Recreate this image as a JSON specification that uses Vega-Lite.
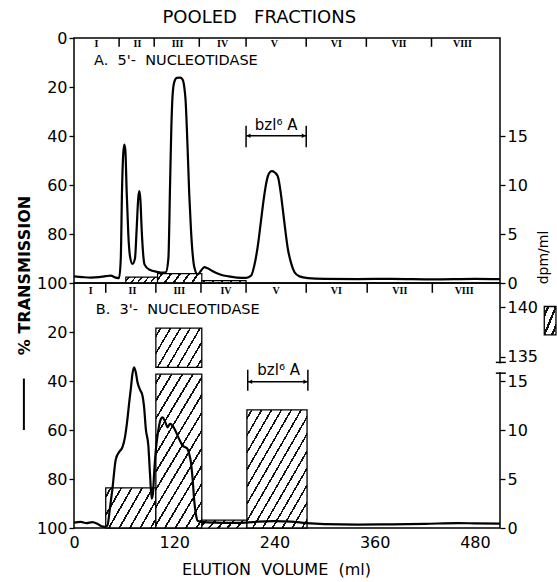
{
  "$schema": "https://vega.github.io/schema/vega-lite/v6.json",
  "padding": {"left": 15, "top": 9, "right": 5, "bottom": 10},
  "bounds": "flush",
  "spacing": 0,
  "title": {"text": "POOLED\u00a0\u00a0\u00a0FRACTIONS", "anchor": "middle", "dx": -27, "offset": 2, "fontSize": 18, "fontWeight": "normal", "font": "DejaVu Sans", "color": "black"},
  "datasets": {
    "lineA": [
      {"ml":0,"t":97.3},{"ml":10,"t":97.6},{"ml":20,"t":97.8},{"ml":30,"t":97.6},{"ml":38,"t":97.2},{"ml":44,"t":97.0},{"ml":50,"t":97.8},{"ml":54,"t":98.0},
      {"ml":56,"t":90},{"ml":57.5,"t":62},{"ml":59,"t":47},{"ml":60.3,"t":43.5},{"ml":61.5,"t":46},{"ml":63,"t":62},{"ml":65,"t":80},{"ml":67,"t":89},{"ml":70,"t":92.2},
      {"ml":73,"t":90},{"ml":75,"t":78},{"ml":77,"t":65},{"ml":78.2,"t":62.5},{"ml":79.5,"t":66},{"ml":81,"t":78},{"ml":83,"t":89},{"ml":84.5,"t":92.5},{"ml":90,"t":94.5},
      {"ml":100,"t":95.5},{"ml":106,"t":95.8},{"ml":110,"t":95.6},{"ml":113,"t":90},{"ml":115,"t":60},{"ml":116.5,"t":37},{"ml":118,"t":23.5},{"ml":120,"t":18},{"ml":123,"t":16.3},
      {"ml":127,"t":16.2},{"ml":130,"t":17},{"ml":132,"t":20},{"ml":133.5,"t":25},{"ml":136,"t":45},{"ml":138,"t":64},{"ml":140,"t":78},{"ml":142,"t":88},{"ml":144,"t":93.5},
      {"ml":148,"t":96.5},{"ml":152,"t":95},{"ml":156,"t":93.5},{"ml":160,"t":94},{"ml":166,"t":95.2},{"ml":175,"t":96.5},{"ml":185,"t":97.3},{"ml":195,"t":97.8},
      {"ml":206,"t":97.9},{"ml":212,"t":97},{"ml":217,"t":91},{"ml":220,"t":85},{"ml":223,"t":77},{"ml":226,"t":68.7},{"ml":229,"t":61.5},{"ml":232,"t":56.5},{"ml":235,"t":54.6},
      {"ml":237,"t":54.3},{"ml":240,"t":54.8},{"ml":244,"t":56.5},{"ml":247,"t":62},{"ml":250,"t":70},{"ml":253,"t":78.5},{"ml":256,"t":86},{"ml":260,"t":92},{"ml":264,"t":95.6},
      {"ml":270,"t":97.3},{"ml":280,"t":98},{"ml":300,"t":98.3},{"ml":340,"t":98.4},{"ml":380,"t":98.3},{"ml":430,"t":98.5},{"ml":480,"t":98.3},{"ml":510,"t":98.4}
    ],
    "lineB": [
      {"ml":0,"t":97.8},{"ml":8,"t":97.5},{"ml":15,"t":98.0},{"ml":22,"t":97.6},{"ml":28,"t":98.3},{"ml":33,"t":99.3},{"ml":37,"t":99.5},{"ml":40,"t":99.0},
      {"ml":43,"t":92},{"ml":46,"t":84},{"ml":50,"t":72},{"ml":54,"t":69},{"ml":58,"t":67},{"ml":61,"t":63},{"ml":64,"t":55.5},{"ml":66,"t":49},{"ml":68,"t":43.3},
      {"ml":70,"t":37},{"ml":72,"t":34.4},{"ml":74,"t":36.5},{"ml":76,"t":40.5},{"ml":79,"t":43.5},{"ml":82,"t":46},{"ml":84,"t":51},{"ml":86,"t":59.6},{"ml":89,"t":66.4},
      {"ml":91,"t":78},{"ml":93,"t":88},{"ml":94.5,"t":86},{"ml":96,"t":77.3},{"ml":98,"t":68},{"ml":100,"t":62.3},{"ml":102,"t":58},{"ml":104,"t":55.5},{"ml":106,"t":54.8},
      {"ml":109,"t":56.5},{"ml":112,"t":58.9},{"ml":115,"t":57.5},{"ml":118,"t":58.2},{"ml":121,"t":60},{"ml":124,"t":62.3},{"ml":127,"t":64.5},{"ml":130,"t":66.4},
      {"ml":133,"t":67},{"ml":136,"t":67.8},{"ml":138,"t":70},{"ml":140,"t":73.2},{"ml":142,"t":80},{"ml":144,"t":89},{"ml":146,"t":94.5},{"ml":148,"t":97},
      {"ml":155,"t":97.6},{"ml":170,"t":97.8},{"ml":190,"t":97.9},{"ml":206,"t":97.8},{"ml":220,"t":97.4},{"ml":240,"t":97.2},{"ml":260,"t":97.4},{"ml":278,"t":98.0},
      {"ml":300,"t":98.4},{"ml":340,"t":98.6},{"ml":380,"t":98.5},{"ml":420,"t":98.3},{"ml":460,"t":98.0},{"ml":480,"t":98.1},{"ml":510,"t":98.2}
    ],
    "barsA": [
      {"frac":"II","x0":62,"x1":100,"lo":0,"hi":0.6},
      {"frac":"III","x0":100,"x1":153,"lo":0,"hi":0.95},
      {"frac":"IV","x0":153,"x1":206,"lo":0,"hi":0.25}
    ],
    "barsB": [
      {"frac":"II","x0":38,"x1":98,"lo":0,"hi":4.1},
      {"frac":"III","x0":98,"x1":153,"lo":0,"hi":15.7},
      {"frac":"III-upper","x0":98,"x1":153,"lo":133.9,"hi":137.9},
      {"frac":"IV","x0":153,"x1":207,"lo":0,"hi":0.8},
      {"frac":"V","x0":207,"x1":279,"lo":0,"hi":12.05}
    ],
    "fracA": [
      {"ml":27,"label":"I"},{"ml":76,"label":"II"},{"ml":124,"label":"III"},{"ml":178,"label":"IV"},
      {"ml":240,"label":"V"},{"ml":314,"label":"VI"},{"ml":389,"label":"VII"},{"ml":465,"label":"VIII"}
    ],
    "fracB": [
      {"ml":20,"label":"I"},{"ml":70,"label":"II"},{"ml":126,"label":"III"},{"ml":182,"label":"IV"},
      {"ml":242,"label":"V"},{"ml":314,"label":"VI"},{"ml":390,"label":"VII"},{"ml":467,"label":"VIII"}
    ],
    "ticksA": [{"ml":54},{"ml":96},{"ml":150},{"ml":206},{"ml":278},{"ml":350},{"ml":428}],
    "ticksB": [{"ml":38},{"ml":98},{"ml":152},{"ml":206},{"ml":278},{"ml":351},{"ml":429}]
  },
  "resolve": {"scale": {"x": "shared", "y": "independent"}},
  "vconcat": [
    {
      "width": 426,
      "height": 245,
      "resolve": {"scale": {"y": "independent"}, "axis": {"y": "independent", "x": "independent"}},
      "layer": [
        {
          "data": {"name": "barsA"},
          "mark": {"type": "rect", "stroke": "black", "strokeWidth": 1.2,
            "fill": {"gradient": "linear", "x1": 0, "y1": 0, "x2": 1, "y2": 0.15, "stops": [
              {"offset":0,"color":"#fff"},
              {"offset":0.075,"color":"#fff"},{"offset":0.075,"color":"#111"},{"offset":0.125,"color":"#111"},{"offset":0.125,"color":"#fff"},
              {"offset":0.275,"color":"#fff"},{"offset":0.275,"color":"#111"},{"offset":0.325,"color":"#111"},{"offset":0.325,"color":"#fff"},
              {"offset":0.475,"color":"#fff"},{"offset":0.475,"color":"#111"},{"offset":0.525,"color":"#111"},{"offset":0.525,"color":"#fff"},
              {"offset":0.675,"color":"#fff"},{"offset":0.675,"color":"#111"},{"offset":0.725,"color":"#111"},{"offset":0.725,"color":"#fff"},
              {"offset":0.875,"color":"#fff"},{"offset":0.875,"color":"#111"},{"offset":0.925,"color":"#111"},{"offset":0.925,"color":"#fff"},
              {"offset":1,"color":"#fff"}]}},
          "encoding": {
            "x": {"field": "x0", "type": "quantitative", "scale": {"domain": [0, 510], "nice": false, "zero": false}, "axis": null},
            "x2": {"field": "x1"},
            "y": {"field": "hi", "type": "quantitative", "scale": {"domain": [0, 25], "nice": false, "zero": false},
              "axis": {"orient": "right", "values": [0, 5, 10, 15], "domain": false, "title": "dpm/ml", "titleX": 43, "titleY": 219, "titleAngle": -90, "titleAlign": "center", "titleBaseline": "middle", "titleFontSize": 14, "titleFontWeight": "normal"}},
            "y2": {"field": "lo"}
          }
        },
        {
          "data": {"name": "ticksA"},
          "mark": {"type": "rule", "color": "black", "strokeWidth": 1.5},
          "encoding": {
            "x": {"field": "ml", "type": "quantitative", "axis": null},
            "y": {"datum": 0, "type": "quantitative", "scale": {"domain": [0, 100], "reverse": true, "nice": false}, "axis": null},
            "y2": {"datum": 3.6}
          }
        },
        {
          "data": {"name": "fracA"},
          "mark": {"type": "text", "font": "Liberation Serif", "fontWeight": "bold", "fontSize": 10, "baseline": "middle", "align": "center", "color": "black"},
          "encoding": {
            "x": {"field": "ml", "type": "quantitative", "axis": null},
            "y": {"datum": 2.5, "type": "quantitative", "scale": {"domain": [0, 100], "reverse": true, "nice": false}, "axis": null},
            "text": {"field": "label"}
          }
        },
        {
          "data": {"values": [{}]},
          "mark": {"type": "text", "text": "A.\u00a0\u00a05'-\u00a0\u00a0NUCLEOTIDASE", "fontSize": 14.5, "align": "left", "baseline": "middle", "color": "black"},
          "encoding": {
            "x": {"datum": 24, "type": "quantitative", "axis": null},
            "y": {"datum": 9.4, "type": "quantitative", "scale": {"domain": [0, 100], "reverse": true, "nice": false}, "axis": null}
          }
        },
        {
          "data": {"values": [{}]},
          "mark": {"type": "rule", "color": "black", "strokeWidth": 1.3},
          "encoding": {
            "x": {"datum": 206, "type": "quantitative", "axis": null},
            "x2": {"datum": 278},
            "y": {"datum": 39.9, "type": "quantitative", "scale": {"domain": [0, 100], "reverse": true, "nice": false}, "axis": null}
          }
        },
        {
          "data": {"values": [{"ml": 206}, {"ml": 278}]},
          "mark": {"type": "rule", "color": "black", "strokeWidth": 1.5},
          "encoding": {
            "x": {"field": "ml", "type": "quantitative", "axis": null},
            "y": {"datum": 35.8, "type": "quantitative", "scale": {"domain": [0, 100], "reverse": true, "nice": false}, "axis": null},
            "y2": {"datum": 44.6}
          }
        },
        {
          "data": {"values": [{}]},
          "mark": {"type": "point", "shape": "triangle-left", "filled": true, "size": 20, "color": "black", "opacity": 1},
          "encoding": {
            "x": {"datum": 209, "type": "quantitative", "axis": null},
            "y": {"datum": 39.9, "type": "quantitative", "scale": {"domain": [0, 100], "reverse": true, "nice": false}, "axis": null}
          }
        },
        {
          "data": {"values": [{}]},
          "mark": {"type": "point", "shape": "triangle-right", "filled": true, "size": 20, "color": "black", "opacity": 1},
          "encoding": {
            "x": {"datum": 275, "type": "quantitative", "axis": null},
            "y": {"datum": 39.9, "type": "quantitative", "scale": {"domain": [0, 100], "reverse": true, "nice": false}, "axis": null}
          }
        },
        {
          "data": {"values": [{}]},
          "mark": {"type": "text", "text": "bzl⁶ A", "fontSize": 15, "align": "center", "baseline": "middle", "color": "black"},
          "encoding": {
            "x": {"datum": 242, "type": "quantitative", "axis": null},
            "y": {"datum": 35.5, "type": "quantitative", "scale": {"domain": [0, 100], "reverse": true, "nice": false}, "axis": null}
          }
        },
        {
          "data": {"name": "lineA"},
          "mark": {"type": "line", "color": "black", "strokeWidth": 2.2, "interpolate": "monotone"},
          "encoding": {
            "x": {"field": "ml", "type": "quantitative", "axis": null},
            "y": {"field": "t", "type": "quantitative", "scale": {"domain": [0, 100], "reverse": true, "nice": false},
              "axis": {"orient": "left", "values": [0, 20, 40, 60, 80, 100], "domain": false, "title": "% TRANSMISSION", "titleX": -50, "titleY": 237, "titleAngle": -90, "titleAlign": "center", "titleBaseline": "middle", "titleFontSize": 16, "titleFontWeight": "bold"}}
          }
        }
      ]
    },
    {
      "width": 426,
      "height": 245,
      "resolve": {"scale": {"y": "independent"}, "axis": {"y": "independent", "x": "independent"}},
      "layer": [
        {
          "data": {"name": "barsB"},
          "transform": [{"filter": "datum.frac == 'II'"}],
          "mark": {"type": "rect", "stroke": "black", "strokeWidth": 1.3,
            "fill": {"gradient": "linear", "x1": 0, "y1": 0, "x2": 1.205, "y2": 0.555, "stops": [
              {"offset":0,"color":"#fff"},
              {"offset":0.0586,"color":"#fff"},{"offset":0.0586,"color":"#111"},{"offset":0.0843,"color":"#111"},{"offset":0.0843,"color":"#fff"},
              {"offset":0.2014,"color":"#fff"},{"offset":0.2014,"color":"#111"},{"offset":0.2271,"color":"#111"},{"offset":0.2271,"color":"#fff"},
              {"offset":0.3443,"color":"#fff"},{"offset":0.3443,"color":"#111"},{"offset":0.37,"color":"#111"},{"offset":0.37,"color":"#fff"},
              {"offset":0.4871,"color":"#fff"},{"offset":0.4871,"color":"#111"},{"offset":0.5129,"color":"#111"},{"offset":0.5129,"color":"#fff"},
              {"offset":0.63,"color":"#fff"},{"offset":0.63,"color":"#111"},{"offset":0.6557,"color":"#111"},{"offset":0.6557,"color":"#fff"},
              {"offset":0.7729,"color":"#fff"},{"offset":0.7729,"color":"#111"},{"offset":0.7986,"color":"#111"},{"offset":0.7986,"color":"#fff"},
              {"offset":0.9157,"color":"#fff"},{"offset":0.9157,"color":"#111"},{"offset":0.9414,"color":"#111"},{"offset":0.9414,"color":"#fff"},
              {"offset":1,"color":"#fff"}]}},
          "encoding": {
            "x": {"field": "x0", "type": "quantitative", "scale": {"domain": [0, 510], "nice": false, "zero": false}, "axis": null},
            "x2": {"field": "x1"},
            "y": {"field": "hi", "type": "quantitative", "scale": {"domain": [0, 25], "nice": false, "zero": false}, "axis": null},
            "y2": {"field": "lo"}
          }
        },
        {
          "data": {"name": "barsB"},
          "transform": [{"filter": "datum.frac == 'III'"}],
          "mark": {"type": "rect", "stroke": "black", "strokeWidth": 1.3,
            "fill": {"gradient": "linear", "x1": 0, "y1": 0, "x2": 0.6, "y2": 1.2, "stops": [
              {"offset":0,"color":"#fff"},
              {"offset":0.0315,"color":"#fff"},{"offset":0.0315,"color":"#111"},{"offset":0.0454,"color":"#111"},{"offset":0.0454,"color":"#fff"},
              {"offset":0.1085,"color":"#fff"},{"offset":0.1085,"color":"#111"},{"offset":0.1223,"color":"#111"},{"offset":0.1223,"color":"#fff"},
              {"offset":0.1854,"color":"#fff"},{"offset":0.1854,"color":"#111"},{"offset":0.1992,"color":"#111"},{"offset":0.1992,"color":"#fff"},
              {"offset":0.2623,"color":"#fff"},{"offset":0.2623,"color":"#111"},{"offset":0.2762,"color":"#111"},{"offset":0.2762,"color":"#fff"},
              {"offset":0.3392,"color":"#fff"},{"offset":0.3392,"color":"#111"},{"offset":0.3531,"color":"#111"},{"offset":0.3531,"color":"#fff"},
              {"offset":0.4162,"color":"#fff"},{"offset":0.4162,"color":"#111"},{"offset":0.43,"color":"#111"},{"offset":0.43,"color":"#fff"},
              {"offset":0.4931,"color":"#fff"},{"offset":0.4931,"color":"#111"},{"offset":0.5069,"color":"#111"},{"offset":0.5069,"color":"#fff"},
              {"offset":0.57,"color":"#fff"},{"offset":0.57,"color":"#111"},{"offset":0.5838,"color":"#111"},{"offset":0.5838,"color":"#fff"},
              {"offset":0.6469,"color":"#fff"},{"offset":0.6469,"color":"#111"},{"offset":0.6608,"color":"#111"},{"offset":0.6608,"color":"#fff"},
              {"offset":0.7238,"color":"#fff"},{"offset":0.7238,"color":"#111"},{"offset":0.7377,"color":"#111"},{"offset":0.7377,"color":"#fff"},
              {"offset":0.8008,"color":"#fff"},{"offset":0.8008,"color":"#111"},{"offset":0.8146,"color":"#111"},{"offset":0.8146,"color":"#fff"},
              {"offset":0.8777,"color":"#fff"},{"offset":0.8777,"color":"#111"},{"offset":0.8915,"color":"#111"},{"offset":0.8915,"color":"#fff"},
              {"offset":0.9546,"color":"#fff"},{"offset":0.9546,"color":"#111"},{"offset":0.9685,"color":"#111"},{"offset":0.9685,"color":"#fff"},
              {"offset":1,"color":"#fff"}]}},
          "encoding": {
            "x": {"field": "x0", "type": "quantitative", "axis": null},
            "x2": {"field": "x1"},
            "y": {"field": "hi", "type": "quantitative", "scale": {"domain": [0, 25], "nice": false, "zero": false}, "axis": null},
            "y2": {"field": "lo"}
          }
        },
        {
          "data": {"name": "barsB"},
          "transform": [{"filter": "datum.frac == 'III-upper'"}],
          "mark": {"type": "rect", "stroke": "black", "strokeWidth": 1.3,
            "fill": {"gradient": "linear", "x1": 0, "y1": 0, "x2": 1.2, "y2": 0.6, "stops": [
              {"offset":0,"color":"#fff"},
              {"offset":0.0586,"color":"#fff"},{"offset":0.0586,"color":"#111"},{"offset":0.0843,"color":"#111"},{"offset":0.0843,"color":"#fff"},
              {"offset":0.2014,"color":"#fff"},{"offset":0.2014,"color":"#111"},{"offset":0.2271,"color":"#111"},{"offset":0.2271,"color":"#fff"},
              {"offset":0.3443,"color":"#fff"},{"offset":0.3443,"color":"#111"},{"offset":0.37,"color":"#111"},{"offset":0.37,"color":"#fff"},
              {"offset":0.4871,"color":"#fff"},{"offset":0.4871,"color":"#111"},{"offset":0.5129,"color":"#111"},{"offset":0.5129,"color":"#fff"},
              {"offset":0.63,"color":"#fff"},{"offset":0.63,"color":"#111"},{"offset":0.6557,"color":"#111"},{"offset":0.6557,"color":"#fff"},
              {"offset":0.7729,"color":"#fff"},{"offset":0.7729,"color":"#111"},{"offset":0.7986,"color":"#111"},{"offset":0.7986,"color":"#fff"},
              {"offset":0.9157,"color":"#fff"},{"offset":0.9157,"color":"#111"},{"offset":0.9414,"color":"#111"},{"offset":0.9414,"color":"#fff"},
              {"offset":1,"color":"#fff"}]}},
          "encoding": {
            "x": {"field": "x0", "type": "quantitative", "axis": null},
            "x2": {"field": "x1"},
            "y": {"field": "hi", "type": "quantitative", "scale": {"domain": [117.5, 142.5], "nice": false, "zero": false}, "axis": null},
            "y2": {"field": "lo"}
          }
        },
        {
          "data": {"name": "barsB"},
          "transform": [{"filter": "datum.frac == 'IV'"}],
          "mark": {"type": "rect", "stroke": "black", "strokeWidth": 1.2,
            "fill": {"gradient": "linear", "x1": 0, "y1": 0, "x2": 1, "y2": 0.15, "stops": [
              {"offset":0,"color":"#fff"},
              {"offset":0.075,"color":"#fff"},{"offset":0.075,"color":"#111"},{"offset":0.125,"color":"#111"},{"offset":0.125,"color":"#fff"},
              {"offset":0.275,"color":"#fff"},{"offset":0.275,"color":"#111"},{"offset":0.325,"color":"#111"},{"offset":0.325,"color":"#fff"},
              {"offset":0.475,"color":"#fff"},{"offset":0.475,"color":"#111"},{"offset":0.525,"color":"#111"},{"offset":0.525,"color":"#fff"},
              {"offset":0.675,"color":"#fff"},{"offset":0.675,"color":"#111"},{"offset":0.725,"color":"#111"},{"offset":0.725,"color":"#fff"},
              {"offset":0.875,"color":"#fff"},{"offset":0.875,"color":"#111"},{"offset":0.925,"color":"#111"},{"offset":0.925,"color":"#fff"},
              {"offset":1,"color":"#fff"}]}},
          "encoding": {
            "x": {"field": "x0", "type": "quantitative", "axis": null},
            "x2": {"field": "x1"},
            "y": {"field": "hi", "type": "quantitative", "scale": {"domain": [0, 25], "nice": false, "zero": false}, "axis": null},
            "y2": {"field": "lo"}
          }
        },
        {
          "data": {"name": "barsB"},
          "transform": [{"filter": "datum.frac == 'V'"}],
          "mark": {"type": "rect", "stroke": "black", "strokeWidth": 1.3,
            "fill": {"gradient": "linear", "x1": 0, "y1": 0, "x2": 0.933, "y2": 1.059, "stops": [
              {"offset":0,"color":"#fff"},
              {"offset":0.0315,"color":"#fff"},{"offset":0.0315,"color":"#111"},{"offset":0.0454,"color":"#111"},{"offset":0.0454,"color":"#fff"},
              {"offset":0.1085,"color":"#fff"},{"offset":0.1085,"color":"#111"},{"offset":0.1223,"color":"#111"},{"offset":0.1223,"color":"#fff"},
              {"offset":0.1854,"color":"#fff"},{"offset":0.1854,"color":"#111"},{"offset":0.1992,"color":"#111"},{"offset":0.1992,"color":"#fff"},
              {"offset":0.2623,"color":"#fff"},{"offset":0.2623,"color":"#111"},{"offset":0.2762,"color":"#111"},{"offset":0.2762,"color":"#fff"},
              {"offset":0.3392,"color":"#fff"},{"offset":0.3392,"color":"#111"},{"offset":0.3531,"color":"#111"},{"offset":0.3531,"color":"#fff"},
              {"offset":0.4162,"color":"#fff"},{"offset":0.4162,"color":"#111"},{"offset":0.43,"color":"#111"},{"offset":0.43,"color":"#fff"},
              {"offset":0.4931,"color":"#fff"},{"offset":0.4931,"color":"#111"},{"offset":0.5069,"color":"#111"},{"offset":0.5069,"color":"#fff"},
              {"offset":0.57,"color":"#fff"},{"offset":0.57,"color":"#111"},{"offset":0.5838,"color":"#111"},{"offset":0.5838,"color":"#fff"},
              {"offset":0.6469,"color":"#fff"},{"offset":0.6469,"color":"#111"},{"offset":0.6608,"color":"#111"},{"offset":0.6608,"color":"#fff"},
              {"offset":0.7238,"color":"#fff"},{"offset":0.7238,"color":"#111"},{"offset":0.7377,"color":"#111"},{"offset":0.7377,"color":"#fff"},
              {"offset":0.8008,"color":"#fff"},{"offset":0.8008,"color":"#111"},{"offset":0.8146,"color":"#111"},{"offset":0.8146,"color":"#fff"},
              {"offset":0.8777,"color":"#fff"},{"offset":0.8777,"color":"#111"},{"offset":0.8915,"color":"#111"},{"offset":0.8915,"color":"#fff"},
              {"offset":0.9546,"color":"#fff"},{"offset":0.9546,"color":"#111"},{"offset":0.9685,"color":"#111"},{"offset":0.9685,"color":"#fff"},
              {"offset":1,"color":"#fff"}]}},
          "encoding": {
            "x": {"field": "x0", "type": "quantitative", "axis": null},
            "x2": {"field": "x1"},
            "y": {"field": "hi", "type": "quantitative", "scale": {"domain": [0, 25], "nice": false, "zero": false},
              "axis": {"orient": "right", "values": [0, 5, 10, 15, 17.5, 22.5], "domain": false, "title": null, "labelExpr": "datum.value == 17.5 ? '135' : datum.value == 22.5 ? '140' : datum.label"}},
            "y2": {"field": "lo"}
          }
        },
        {
          "data": {"values": [{}]},
          "mark": {"type": "rect", "fill": "white", "stroke": null},
          "encoding": {
            "x": {"datum": 506.5, "type": "quantitative", "axis": null},
            "x2": {"datum": 513.5},
            "y": {"datum": 15.9, "type": "quantitative", "scale": {"domain": [0, 25], "nice": false, "zero": false}, "axis": null},
            "y2": {"datum": 16.8}
          }
        },
        {
          "data": {"values": [{"v": 15.8}, {"v": 16.9}]},
          "mark": {"type": "rule", "color": "black", "strokeWidth": 1.5},
          "encoding": {
            "x": {"datum": 505, "type": "quantitative", "axis": null},
            "x2": {"datum": 517},
            "y": {"field": "v", "type": "quantitative", "scale": {"domain": [0, 25], "nice": false, "zero": false}, "axis": null}
          }
        },
        {
          "data": {"values": [{}]},
          "mark": {"type": "rect", "stroke": "black", "strokeWidth": 1.3,
            "fill": {"gradient": "linear", "x1": 0, "y1": 0, "x2": 1, "y2": 1, "stops": [
              {"offset":0,"color":"#fff"},
              {"offset":0.1167,"color":"#fff"},{"offset":0.1167,"color":"#111"},{"offset":0.2167,"color":"#111"},{"offset":0.2167,"color":"#fff"},
              {"offset":0.45,"color":"#fff"},{"offset":0.45,"color":"#111"},{"offset":0.55,"color":"#111"},{"offset":0.55,"color":"#fff"},
              {"offset":0.7833,"color":"#fff"},{"offset":0.7833,"color":"#111"},{"offset":0.8833,"color":"#111"},{"offset":0.8833,"color":"#fff"},
              {"offset":1,"color":"#fff"}]}},
          "encoding": {
            "x": {"datum": 563, "type": "quantitative", "axis": null},
            "x2": {"datum": 577},
            "y": {"datum": 137.2, "type": "quantitative", "scale": {"domain": [117.5, 142.5], "nice": false, "zero": false}, "axis": null},
            "y2": {"datum": 140.1}
          }
        },
        {
          "data": {"values": [{}]},
          "mark": {"type": "rule", "color": "black", "strokeWidth": 2},
          "encoding": {
            "x": {"datum": -60, "type": "quantitative", "axis": null},
            "y": {"datum": 39, "type": "quantitative", "scale": {"domain": [0, 100], "reverse": true, "nice": false}, "axis": null},
            "y2": {"datum": 60}
          }
        },
        {
          "data": {"name": "ticksB"},
          "mark": {"type": "rule", "color": "black", "strokeWidth": 1.5},
          "encoding": {
            "x": {"field": "ml", "type": "quantitative", "axis": null},
            "y": {"datum": 0, "type": "quantitative", "scale": {"domain": [0, 100], "reverse": true, "nice": false}, "axis": null},
            "y2": {"datum": 4}
          }
        },
        {
          "data": {"name": "fracB"},
          "mark": {"type": "text", "font": "Liberation Serif", "fontWeight": "bold", "fontSize": 10, "baseline": "middle", "align": "center", "color": "black"},
          "encoding": {
            "x": {"field": "ml", "type": "quantitative", "axis": null},
            "y": {"datum": 3.1, "type": "quantitative", "scale": {"domain": [0, 100], "reverse": true, "nice": false}, "axis": null},
            "text": {"field": "label"}
          }
        },
        {
          "data": {"values": [{}]},
          "mark": {"type": "text", "text": "B.\u00a0\u00a03'-\u00a0\u00a0NUCLEOTIDASE", "fontSize": 14.5, "align": "left", "baseline": "middle", "color": "black"},
          "encoding": {
            "x": {"datum": 26, "type": "quantitative", "axis": null},
            "y": {"datum": 11, "type": "quantitative", "scale": {"domain": [0, 100], "reverse": true, "nice": false}, "axis": null}
          }
        },
        {
          "data": {"values": [{}]},
          "mark": {"type": "rule", "color": "black", "strokeWidth": 1.3},
          "encoding": {
            "x": {"datum": 208, "type": "quantitative", "axis": null},
            "x2": {"datum": 280},
            "y": {"datum": 40.3, "type": "quantitative", "scale": {"domain": [0, 100], "reverse": true, "nice": false}, "axis": null}
          }
        },
        {
          "data": {"values": [{"ml": 208}, {"ml": 280}]},
          "mark": {"type": "rule", "color": "black", "strokeWidth": 1.5},
          "encoding": {
            "x": {"field": "ml", "type": "quantitative", "axis": null},
            "y": {"datum": 35.4, "type": "quantitative", "scale": {"domain": [0, 100], "reverse": true, "nice": false}, "axis": null},
            "y2": {"datum": 44}
          }
        },
        {
          "data": {"values": [{}]},
          "mark": {"type": "point", "shape": "triangle-left", "filled": true, "size": 20, "color": "black", "opacity": 1},
          "encoding": {
            "x": {"datum": 211, "type": "quantitative", "axis": null},
            "y": {"datum": 40.3, "type": "quantitative", "scale": {"domain": [0, 100], "reverse": true, "nice": false}, "axis": null}
          }
        },
        {
          "data": {"values": [{}]},
          "mark": {"type": "point", "shape": "triangle-right", "filled": true, "size": 20, "color": "black", "opacity": 1},
          "encoding": {
            "x": {"datum": 277, "type": "quantitative", "axis": null},
            "y": {"datum": 40.3, "type": "quantitative", "scale": {"domain": [0, 100], "reverse": true, "nice": false}, "axis": null}
          }
        },
        {
          "data": {"values": [{}]},
          "mark": {"type": "text", "text": "bzl⁶ A", "fontSize": 15, "align": "center", "baseline": "middle", "color": "black"},
          "encoding": {
            "x": {"datum": 245, "type": "quantitative", "axis": null},
            "y": {"datum": 35.7, "type": "quantitative", "scale": {"domain": [0, 100], "reverse": true, "nice": false}, "axis": null}
          }
        },
        {
          "data": {"name": "lineB"},
          "mark": {"type": "line", "color": "black", "strokeWidth": 2.2, "interpolate": "monotone"},
          "encoding": {
            "x": {"field": "ml", "type": "quantitative",
              "axis": {"orient": "bottom", "values": [0, 120, 240, 360, 480], "domain": false, "ticks": false, "labelFlush": false, "labelPadding": 6, "title": "ELUTION\u00a0\u00a0VOLUME\u00a0\u00a0(ml)", "titleX": 202, "titleY": 41, "titleAlign": "center", "titleBaseline": "middle", "titleFontSize": 16, "titleFontWeight": "normal"}},
            "y": {"field": "t", "type": "quantitative", "scale": {"domain": [0, 100], "reverse": true, "nice": false},
              "axis": {"orient": "left", "values": [20, 40, 60, 80, 100], "domain": false, "title": null}}
          }
        }
      ]
    }
  ],
  "config": {
    "view": {"stroke": "black", "strokeWidth": 1.5},
    "font": "DejaVu Sans",
    "text": {"font": "DejaVu Sans"},
    "axis": {"labelFont": "DejaVu Sans", "labelFontSize": 16, "labelColor": "black", "tickColor": "black", "tickSize": 5, "tickWidth": 1.3, "labelPadding": 2, "grid": false, "titleFont": "DejaVu Sans", "titleColor": "black"}
  }
}
